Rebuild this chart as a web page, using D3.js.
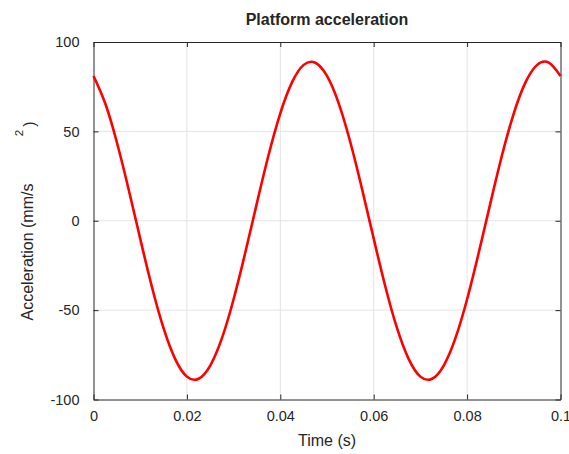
<!DOCTYPE html>
<html>
<head>
<meta charset="utf-8">
<script src="https://cdn.jsdelivr.net/npm/d3@7"></script>
<style>
  body { margin: 0; background: #fff; }
  text { font-family: "Liberation Sans", Arial, sans-serif; fill: #262626; }
</style>
</head>
<body>
<svg width="569" height="454"></svg>
<script>
const time = [0, 0.0025, 0.005, 0.0075, 0.01, 0.0125, 0.015, 0.0175, 0.02, 0.0225,
  0.025, 0.0275, 0.03, 0.0325, 0.035, 0.0375, 0.04, 0.0425, 0.045, 0.0475,
  0.05, 0.0525, 0.055, 0.0575, 0.06, 0.0625, 0.065, 0.0675, 0.07, 0.0725,
  0.075, 0.0775, 0.08, 0.0825, 0.085, 0.0875, 0.09, 0.0925, 0.095, 0.0975, 0.1]
const accel = [81.0, 65.7, 43.9, 17.8, -10.0, -36.9, -60.1, -77.4, -87.2, -88.4,
  -81.0, -65.7, -43.9, -17.8, 10.0, 36.9, 60.1, 77.4, 87.2, 88.4,
  81.0, 65.7, 43.9, 17.8, -10.0, -36.9, -60.1, -77.4, -87.2, -88.4,
  -81.0, -65.7, -43.9, -17.8, 10.0, 36.9, 60.1, 77.4, 87.2, 88.4, 81.0]
const xTicks = [0, 0.02, 0.04, 0.06, 0.08, 0.1]
const yTicks = [-100, -50, 0, 50, 100]

const svg = d3.select('svg')
const mLeft = 93.5, mRight = 560.5, mTop = 42, mBottom = 399.5
const x = d3.scaleLinear().domain([0, 0.1]).range([mLeft, mRight])
const y = d3.scaleLinear().domain([-100, 100]).range([mBottom, mTop])

// grid
svg.append('g').selectAll('line').data(xTicks.slice(1, -1)).enter().append('line')
    .attr('x1', d => x(d)).attr('x2', d => x(d))
    .attr('y1', mTop).attr('y2', mBottom)
    .attr('stroke', '#e3e3e3').attr('stroke-width', 1)
svg.append('g').selectAll('line').data(yTicks.slice(1, -1)).enter().append('line')
    .attr('x1', mLeft).attr('x2', mRight)
    .attr('y1', d => y(d)).attr('y2', d => y(d))
    .attr('stroke', '#e3e3e3').attr('stroke-width', 1)

// axes with inward ticks
const fmtX = d => String(d)
const fmtY = d => String(d)
const styleAxis = g => {
  g.select('.domain').attr('stroke', '#262626')
  g.selectAll('.tick line').attr('stroke', '#262626')
  g.selectAll('text').style('font-size', '14.5px').attr('fill', '#262626')
}
svg.append('g').attr('transform', `translate(0,${mBottom})`)
  .call(d3.axisBottom(x).tickValues(xTicks).tickFormat(fmtX).tickSizeInner(-5).tickSizeOuter(0).tickPadding(11))
  .call(styleAxis)
svg.append('g').attr('transform', `translate(0,${mTop})`)
  .call(d3.axisTop(x).tickValues(xTicks).tickFormat('').tickSizeInner(-5).tickSizeOuter(0))
  .call(styleAxis)
svg.append('g').attr('transform', `translate(${mLeft},0)`)
  .call(d3.axisLeft(y).tickValues(yTicks).tickFormat(fmtY).tickSizeInner(-5).tickSizeOuter(0).tickPadding(14))
  .call(styleAxis)
svg.append('g').attr('transform', `translate(${mRight},0)`)
  .call(d3.axisRight(y).tickValues(yTicks).tickFormat('').tickSizeInner(-5).tickSizeOuter(0))
  .call(styleAxis)

// data line
const line = d3.line()
  .x((d, i) => x(time[i]))
  .y(d => y(d))
  .curve(d3.curveNatural)
svg.append('path')
  .attr('d', line(accel))
  .attr('fill', 'none')
  .attr('stroke', '#ff0000')
  .attr('stroke-width', 2.6)

// labels
svg.append('text')
  .attr('x', (mLeft + mRight) / 2).attr('y', 25)
  .attr('text-anchor', 'middle')
  .style('font-size', '16px').style('font-weight', 'bold')
  .attr('fill', '#000')
  .text('Platform acceleration')
svg.append('text')
  .attr('x', (mLeft + mRight) / 2).attr('y', 446)
  .attr('text-anchor', 'middle')
  .style('font-size', '16px')
  .text('Time (s)')
svg.append('text')
  .attr('transform', 'translate(33,252) rotate(-90)')
  .attr('text-anchor', 'middle')
  .style('font-size', '16px')
  .text('Acceleration (mm/s')
svg.append('text')
  .attr('transform', 'translate(23,133) rotate(-90)')
  .attr('text-anchor', 'middle')
  .style('font-size', '11.5px')
  .text('2')
svg.append('text')
  .attr('transform', 'translate(35,124) rotate(-90)')
  .attr('text-anchor', 'middle')
  .style('font-size', '16px')
  .text(')')
</script>
</body>
</html>
